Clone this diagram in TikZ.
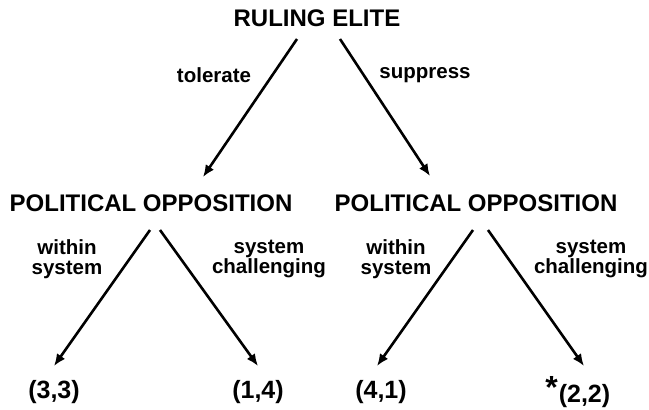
\documentclass[tikz,border=0pt]{standalone}
\usepackage{fontspec}
\setmainfont{Liberation Sans}
\usetikzlibrary{arrows.meta,positioning}

\tikzset{
  head/.style={font=\fontsize{24}{26}\selectfont\bfseries, inner sep=0pt},
  move/.style={font=\fontsize{20.5}{19.5}\selectfont\bfseries, align=center, inner sep=0pt},
  payoff/.style={font=\fontsize{25}{27}\selectfont\bfseries, inner sep=0pt},
  branch/.style={-{Latex[length=12pt,width=10pt]}, line width=2.6pt}
}

\begin{document}
\begin{tikzpicture}[x=1pt,y=-1pt]
  \useasboundingbox (0,0) rectangle (649,410);

  % Decision makers
  \node[head] (elite) at (317,18) {RULING ELITE};
  \node[head] (opp-1) at (151,203) {POLITICAL OPPOSITION};
  \node[head] (opp-2) at (476,203) {POLITICAL OPPOSITION};

  % Outcomes
  \node[payoff] (out-1) at (54,392) {(3,3)};
  \node[payoff] (out-2) at (258,392) {(1,4)};
  \node[payoff] (out-3) at (381,392) {(4,1)};
  \node[payoff] (out-4) at (584.5,392) {\llap{\raisebox{4pt}{\fontsize{32}{32}\selectfont *}\kern1pt}(2,2)};

  % Arrows
  \draw[branch] ([xshift=-20pt,yshift=-21pt]elite.center) -- ([xshift=52pt,yshift=26pt]opp-1.center);
  \draw[branch] ([xshift=23pt,yshift=-21pt]elite.center) -- ([xshift=-46pt,yshift=27pt]opp-2.center);

  \draw[branch] ([xshift=-1pt,yshift=-27pt]opp-1.center) -- ([yshift=26pt]out-1.center);
  \draw[branch] ([xshift=9pt,yshift=-27pt]opp-1.center) -- ([yshift=26pt]out-2.center);
  \draw[branch] ([xshift=-3pt,yshift=-27pt]opp-2.center) -- ([xshift=-4pt,yshift=26pt]out-3.center);
  \draw[branch] ([xshift=12pt,yshift=-27pt]opp-2.center) -- ([xshift=-0.5pt,yshift=26pt]out-4.center);

  % Labels
  \node[move] (tolerate) at (214,75) {tolerate};
  \node[move] (suppress) at (425,75) {suppress};
  \node[move] (within-1) at (67,259) {within\\system};
  \node[move] (challenge-1) at (269,259) {system\\challenging};
  \node[move] (within-2) at (396,259) {within\\system};
  \node[move] (challenge-2) at (591,259) {system\\challenging};
\end{tikzpicture}
\end{document}
